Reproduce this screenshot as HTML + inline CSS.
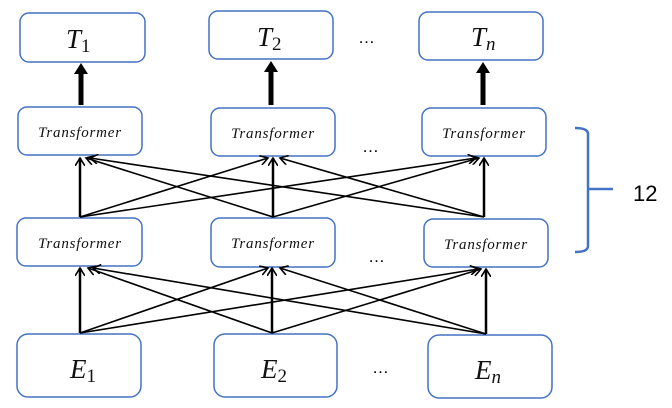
<!DOCTYPE html>
<html><head><meta charset="utf-8"><style>
html,body{margin:0;padding:0;background:#fff;width:672px;height:408px;overflow:hidden}
svg{display:block}
.b{fill:#fff;stroke:#4472c4;stroke-width:1.5}
.t{font-family:"Liberation Serif",serif;font-style:italic;fill:#111}
.l{stroke:#000;stroke-width:1.6;fill:none}
</style></head><body>
<svg width="672" height="408" viewBox="0 0 672 408">
<defs>
<marker id="a" markerWidth="10" markerHeight="10" refX="8" refY="5" orient="auto" markerUnits="userSpaceOnUse"><path d="M0,0 L8,5 L0,10" fill="none" stroke="#000" stroke-width="1.6"/></marker>
</defs>
<!-- T boxes -->
<rect class="b" x="20" y="13" width="125" height="49" rx="9"/>
<rect class="b" x="209" y="11" width="124" height="48" rx="9"/>
<rect class="b" x="419" y="12" width="124" height="48" rx="9"/>
<text class="t" x="66" y="48" font-size="27">T<tspan font-style="normal" font-size="19" dy="4">1</tspan></text>
<text class="t" x="257" y="46" font-size="27">T<tspan font-style="normal" font-size="19" dy="4">2</tspan></text>
<text class="t" x="471" y="46" font-size="27">T<tspan font-size="19" dy="4">n</tspan></text>
<text x="358" y="43" font-family="Liberation Sans,sans-serif" font-size="17">…</text>
<!-- thick arrows -->
<g fill="#000">
<rect x="78.5" y="72" width="5" height="33"/><path d="M74,74 L81,63 L88,74 Z"/>
<rect x="268.5" y="70" width="5" height="35"/><path d="M264,72 L271,61 L278,72 Z"/>
<rect x="480.5" y="71" width="5" height="34"/><path d="M476,73 L483,62 L490,73 Z"/>
</g>
<!-- upper transformers -->
<rect class="b" x="18" y="107" width="124" height="48" rx="9"/>
<rect class="b" x="211" y="108" width="124" height="48" rx="9"/>
<rect class="b" x="422" y="108" width="124" height="48" rx="9"/>
<!-- lower transformers -->
<rect class="b" x="17" y="218" width="125" height="48" rx="9"/>
<rect class="b" x="211" y="218" width="124" height="49" rx="9"/>
<rect class="b" x="424" y="219" width="124" height="48" rx="9"/>
<g class="t" font-size="15" text-anchor="middle" letter-spacing="0.8">
<text x="80" y="137">Transformer</text>
<text x="273" y="138">Transformer</text>
<text x="484" y="138">Transformer</text>
<text x="80" y="248">Transformer</text>
<text x="273" y="248">Transformer</text>
<text x="486" y="249">Transformer</text>
</g>
<text x="362" y="152" font-family="Liberation Sans,sans-serif" font-size="17">…</text>
<text x="368" y="262" font-family="Liberation Sans,sans-serif" font-size="17">…</text>
<text x="372" y="373" font-family="Liberation Sans,sans-serif" font-size="17">…</text>
<!-- E boxes -->
<rect class="b" x="17" y="334" width="124" height="63" rx="11"/>
<rect class="b" x="214" y="334" width="123" height="63" rx="11"/>
<rect class="b" x="428" y="335" width="124" height="63" rx="11"/>
<text class="t" x="70" y="378" font-size="27">E<tspan font-style="normal" font-size="19" dy="4">1</tspan></text>
<text class="t" x="261" y="378" font-size="27">E<tspan font-style="normal" font-size="19" dy="4">2</tspan></text>
<text class="t" x="475" y="379" font-size="27">E<tspan font-size="19" dy="4">n</tspan></text>
<!-- upper connections -->
<g class="l" marker-end="url(#a)">
<line x1="80" y1="217" x2="80" y2="158" stroke-width="2.5"/>
<line x1="273" y1="217" x2="273" y2="158" stroke-width="2.5"/>
<line x1="484" y1="217" x2="484" y2="158" stroke-width="2.5"/>
<line x1="80" y1="217" x2="268" y2="158"/>
<line x1="80" y1="217" x2="476" y2="158"/>
<line x1="273" y1="217" x2="86" y2="158"/>
<line x1="273" y1="217" x2="479" y2="158"/>
<line x1="484" y1="217" x2="90" y2="158"/>
<line x1="484" y1="217" x2="280" y2="158"/>
</g>
<!-- lower connections -->
<g class="l" marker-end="url(#a)">
<line x1="80" y1="333" x2="80" y2="268" stroke-width="2.5"/>
<line x1="272" y1="333" x2="272" y2="268" stroke-width="2.5"/>
<line x1="486" y1="334" x2="486" y2="269" stroke-width="2.5"/>
<line x1="80" y1="333" x2="268" y2="268"/>
<line x1="80" y1="333" x2="478" y2="269"/>
<line x1="272" y1="333" x2="88" y2="268"/>
<line x1="272" y1="333" x2="481" y2="269"/>
<line x1="486" y1="334" x2="93" y2="268"/>
<line x1="486" y1="334" x2="280" y2="268"/>
</g>
<!-- bracket -->
<path d="M575,128 Q588,128 588,134 L588,246 Q588,252 575,252 M588,189 L613,189" fill="none" stroke="#4472c4" stroke-width="2.5"/>
<text x="633" y="201" font-family="Liberation Sans,sans-serif" font-size="22" fill="#000">12</text>
</svg>
</body></html>
